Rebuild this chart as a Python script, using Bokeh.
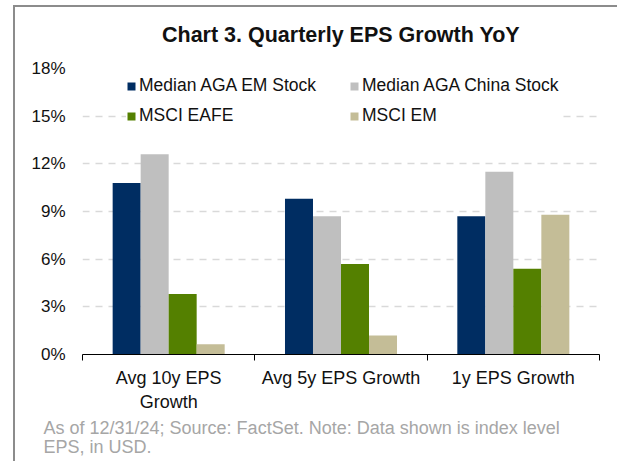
from bokeh.plotting import figure
from bokeh.models import (ColumnDataSource, FixedTicker, Legend, LegendItem,
                          Title, Range1d)
from bokeh.embed import file_html
from bokeh.resources import INLINE

# ---- data ----
categories = ["Avg 10y EPS\nGrowth", "Avg 5y EPS Growth", "1y EPS Growth"]
series_names = ["Median AGA EM Stock", "Median AGA China Stock", "MSCI EAFE", "MSCI EM"]
median_aga_em = [10.8, 9.8, 8.7]
median_aga_china = [12.6, 8.7, 11.5]
msci_eafe = [3.8, 5.7, 5.4]
msci_em = [0.65, 1.2, 8.8]
y_ticks = [0, 3, 6, 9, 12, 15, 18]
y_tick_labels = ["0%", "3%", "6%", "9%", "12%", "15%", "18%"]
colors = ["#002D62", "#BFBFBF", "#548000", "#C4BD97"]
chart_title = "Chart 3. Quarterly EPS Growth YoY"
note_lines = ["As of 12/31/24; Source: FactSet. Note: Data shown is index level",
              "EPS, in USD."]

FONT = "Liberation Sans"

p = figure(width=604, height=456, output_backend="svg", toolbar_location=None,
           x_range=Range1d(0, 3), y_range=Range1d(0, 18), title_location=None,
           min_border_left=67, min_border_right=20, min_border_top=61,
           min_border_bottom=109, margin=(5, 0, 0, 13),
           styles={"border-left": "2px solid #8C8C8C",
                   "border-top": "2px solid #8C8C8C"})
p.outline_line_color = None
p.background_fill_color = "white"
p.border_fill_color = "white"

# spacer between frame and title, then the title itself (outer)
spacer = Title(text=" ", text_font_size="10px", standoff=9)
p.add_layout(spacer, "above")
main_title = Title(text=chart_title, align="center", standoff=0,
                   text_font=FONT, text_font_size="21.5px",
                   text_font_style="bold", text_color="#111111")
p.add_layout(main_title, "above")

centers = [i + 0.5 for i in range(len(categories))]
bar_w = 0.1625
all_series = [median_aga_em, median_aga_china, msci_eafe, msci_em]
renderers = {}
for k, (name, vals, col) in enumerate(zip(series_names, all_series, colors)):
    off = (k - 1.5) * bar_w
    src = ColumnDataSource(dict(x=[c + off for c in centers], top=vals))
    r = p.vbar(x="x", top="top", width=bar_w, bottom=0, source=src,
               fill_color=col, line_color=None)
    renderers[name] = r

# legend: 2 columns, filled column-wise -> order so rows read left to right
legend_order = [series_names[0], series_names[2], series_names[1], series_names[3]]
items = [LegendItem(label=n, renderers=[renderers[n]]) for n in legend_order]

# axes
p.xaxis.ticker = FixedTicker(ticks=centers, minor_ticks=[0, 1, 2, 3])
p.xaxis.major_label_overrides = {c: lab for c, lab in zip(centers, categories)}
p.xaxis.major_tick_out = 0
p.xaxis.major_tick_in = 0
p.xaxis.minor_tick_out = 6
p.xaxis.minor_tick_in = 0
p.xaxis.minor_tick_line_color = "black"
p.xaxis.axis_line_color = "black"
p.xaxis.axis_line_width = 1.2
p.xaxis.major_label_text_font = FONT
p.xaxis.major_label_text_font_size = "18px"
p.xaxis.major_label_text_color = "#111111"
p.xaxis.major_label_text_line_height = 1.2
p.xaxis.major_label_standoff = 7

p.yaxis.ticker = FixedTicker(ticks=y_ticks)
p.yaxis.major_label_overrides = {t: l for t, l in zip(y_ticks, y_tick_labels)}
p.yaxis.axis_line_color = None
p.yaxis.major_tick_line_color = None
p.yaxis.minor_tick_line_color = None
p.yaxis.major_tick_out = 0
p.yaxis.major_label_standoff = 17
p.yaxis.major_label_text_font = FONT
p.yaxis.major_label_text_font_size = "17px"
p.yaxis.major_label_text_color = "#111111"

p.xgrid.grid_line_color = None
p.ygrid.grid_line_color = "#D9D9D9"
p.ygrid.grid_line_dash = "7 6"
p.ygrid.grid_line_width = 1.5

legend = Legend(items=items, ncols=2, location=(44, 228),
                glyph_width=10, glyph_height=10, label_standoff=3,
                label_width=201, spacing=9, padding=6, margin=0,
                border_line_color=None, background_fill_color="white",
                background_fill_alpha=1.0,
                label_text_font=FONT, label_text_font_size="17.5px",
                label_text_color="#111111")
p.add_layout(legend, "center")

for i, line in enumerate(note_lines):
    t = Title(text=line, align="left", offset=-39, standoff=3 if i == 0 else -10,
              text_font=FONT, text_font_size="18px", text_font_style="normal",
              text_color="#A6A6A6")
    p.add_layout(t, "below")

open("out.html", "w").write(file_html(p, INLINE))
